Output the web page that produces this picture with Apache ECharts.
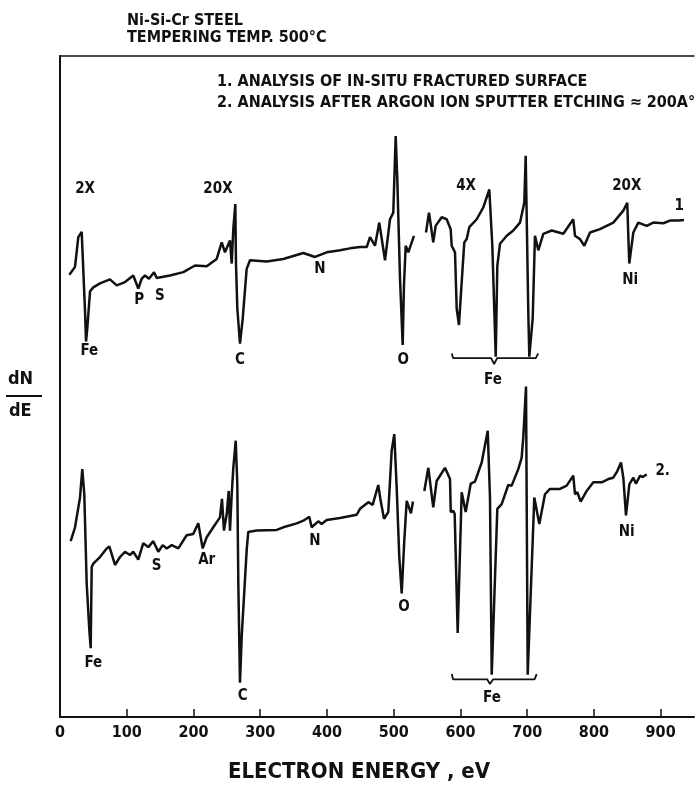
<!DOCTYPE html>
<html>
<head>
<meta charset="utf-8">
<script src="https://cdn.jsdelivr.net/npm/echarts@6/dist/echarts.min.js"></script>
<style>
  html, body { margin: 0; padding: 0; background: #fff; }
  #chart { width: 696px; height: 788px; }
</style>
</head>
<body>
<div id="chart"></div>
<script>
// x axis ticks (eV)
const energyTicks = [0, 100, 200, 300, 400, 500, 600, 700, 800, 900]

// curve 1: in-situ fractured surface
const energy1 = [14, 22.5, 27.4, 32.5, 34.9, 37.5, 39, 40.9, 45, 49.9,
  59.9, 74.9, 85, 97.4, 109.8, 117.3, 122.4, 127.4, 133.4, 140.9,
  144.9, 164.8, 184.8, 202.3, 219.8, 234.8, 242.3, 247.2, 254.7, 257.3,
  259.7, 262.7, 263.7, 265.7, 269.7, 273.8, 279.7, 284.7, 309.7, 334.6,
  364.6, 382.1, 399.6, 419.6, 434.5, 449.5, 459.6, 464.5, 472, 478.4,
  487, 494.5, 499.4, 503, 505.4, 509.5, 513.5, 515.4, 518, 521.9,
  530.4, 540, 548.4, 552.9, 559.3, 562.9, 571.9, 579.4, 585.4, 586.9,
  591.9, 594.4, 597.8, 601.9, 605.8, 609.4, 613.3, 624.4, 634.3, 643.3,
  647.8, 652.9, 655.3, 659.3, 669.4, 679.2, 689.3, 695.7, 697.8, 701.7,
  703.2, 708.3, 711.7, 716.7, 724.2, 736.8, 754.2, 769.1, 771.7, 779.2,
  785.6, 794.2, 809.1, 829.1, 844.1, 850, 851.5, 853, 859.1, 866.5,
  879.1, 889, 904, 914, 926.5, 935]
const signal1 = [66.9, 68.1, 72.6, 73.4, 73.1, 61.4, 56.8, 58.8, 64.4, 65.0,
  65.6, 66.2, 65.3, 65.8, 66.8, 64.8, 66.3, 66.8, 66.3, 67.3,
  66.4, 66.8, 67.3, 68.3, 68.2, 69.3, 71.8, 70.3, 72.1, 68.6,
  73.8, 77.6, 68.6, 61.8, 56.5, 60.3, 67.8, 69.1, 68.9, 69.3,
  70.2, 69.6, 70.3, 70.6, 70.9, 71.1, 71.1, 72.6, 71.3, 74.8,
  69.1, 75.3, 76.3, 87.9, 81.4, 66.3, 56.3, 65.3, 71.3, 70.3,
  72.8, null, 73.3, 76.3, 71.8, 74.3, 75.6, 75.3, 73.8, 71.3,
  70.3, 61.8, 59.3, 65.8, 71.8, 72.3, 74.1, 75.3, 77.1, 79.8,
  71.3, 54.5, 68.3, 71.6, 72.8, 73.6, 74.8, 77.8, 84.9, 61.3,
  54.5, 60.3, 72.8, 70.6, 73.1, 73.6, 73.1, 75.3, 72.8, 72.3,
  71.3, 73.3, 73.8, 74.8, 76.6, 77.8, 73.0, 68.6, 73.3, 74.8,
  74.3, 74.8, 74.7, 75.1, 75.1, 75.2]

// curve 2: after argon ion sputter etching
const energy2 = [16, 22.5, 30, 33.4, 36.4, 40, 43.9, 46, 47.5, 49.9,
  59.9, 70, 73.9, 82.4, 89.9, 97.4, 104.9, 109.8, 117.3, 124.8,
  132.3, 139.8, 147.3, 153.9, 159.9, 167.4, 177.3, 189.8, 199.7, 207.2,
  213.8, 219.8, 229.7, 239.7, 242.7, 245.7, 249.8, 252.8, 254.7, 257.3,
  259.7, 263.3, 265.7, 267.2, 269.7, 272.3, 279.7, 282.1, 294.7, 324.7,
  334.6, 354.7, 364.6, 373.5, 377.1, 387, 392.1, 399.6, 419.6, 444.6,
  449.5, 462, 468.5, 476.9, 480.5, 485.5, 491.9, 497, 500.9, 504.5,
  508.4, 512, 515.9, 519.5, 525.9, 528.9, 537, 545.9, 551.9, 559.3,
  564.4, 576.9, 584.4, 585.5, 589.3, 591.4, 595.9, 601.9, 607.9, 615.4,
  621.8, 631.9, 640.9, 644.3, 646.9, 655.3, 661.8, 671.7, 676.8, 686.7,
  691.7, 694.2, 698.3, 700.8, 710.7, 718.2, 726.7, 734.2, 749.2, 759.2,
  769.1, 771.7, 775.1, 780.2, 789.2, 799.1, 811.7, 821.6, 829.1, 835.1,
  840.6, 844.1, 848.1, 853.1, 859.1, 863.1, 869.1, 873.1, 879.1]
const signal2 = [26.6, 28.7, 33.2, 37.5, 33.7, 20.2, 13.2, 10.4, 22.7, 23.2,
  24.2, 25.5, 25.8, 23.0, 24.2, 25.0, 24.5, 25.0, 23.8, 26.3,
  25.7, 26.6, 25.0, 26.0, 25.5, 26.0, 25.5, 27.5, 27.7, 29.3,
  25.5, 27.2, 28.7, 30.2, 33.0, 28.2, 30.7, 34.2, 28.2, 33.7,
  37.7, 41.8, 35.2, 20.2, 5.2, 12.2, 25.2, 28.0, 28.2, 28.3,
  28.7, 29.3, 29.7, 30.3, 28.7, 29.6, 29.2, 29.8, 30.1, 30.6,
  31.5, 32.5, 32.1, 35.1, 32.7, 30.0, 31.0, 40.3, 42.8, 34.7,
  24.2, 18.7, 26.7, 32.7, 30.8, 32.6, null, 34.2, 37.7, 31.7,
  35.7, 37.7, 36.0, 31.0, 31.2, 30.7, 12.7, 34.0, 31.0, 35.3,
  35.6, 38.5, 43.3, 33.2, 6.4, 31.5, 32.2, 35.1, 35.0, 37.5,
  39.2, 42.3, 50.0, 6.4, 33.2, 29.2, 33.7, 34.5, 34.5, 35.0,
  36.5, 33.7, 34.0, 32.6, 34.2, 35.5, 35.5, 36.0, 36.2, 37.2,
  38.5, 36.2, 30.5, 35.2, 36.2, 35.3, 36.5, 36.3, 36.7]

// Fe brackets under the three Fe peaks
const bracketEnergy1 = [587, 589, 646, 650.5, 655, 713, 716.6]
const bracketSignal1 = [55.0, 54.3, 54.3, 53.4, 54.3, 54.3, 55.0]
const bracketEnergy2 = [587, 589, 640, 644.3, 649, 711, 714.3]
const bracketSignal2 = [6.5, 5.7, 5.7, 5.0, 5.7, 5.7, 6.5]

// peak labels and gain notes
const labelText = ['2X', '20X', '4X', '20X', '1', 'Fe', 'P', 'S', 'C', 'N', 'O', 'Fe', 'Ni',
  'Fe', 'S', 'Ar', 'C', 'N', 'O', 'Fe', 'Ni', '2.']
const labelEnergy = [37.5, 236.7, 608.4, 849.2, 928, 43.9, 118.8, 149.8, 269.7, 389.6, 514.4, 648.8, 854.4,
  49.9, 144.9, 219.8, 273.8, 382.1, 515.5, 647.3, 849.2, 903]
const labelSignal = [79.8, 79.8, 80.3, 80.3, 77.3, 55.3, 63.1, 63.6, 54.0, 67.7, 54.0, 51.0, 66.1,
  8.2, 22.8, 23.7, 3.2, 26.6, 16.6, 2.9, 28.0, 37.2]

const FONT = '"DejaVu Sans Condensed", "DejaVu Sans", sans-serif'
const INK = '#111'

function zip(xs, ys) {
  return xs.map((x, i) => [x, ys[i] === null ? '-' : ys[i]])
}

let chart = echarts.init(document.getElementById('chart'))

let traceStyle = { color: INK, width: 2.5 }

let option = {
  animation: false,
  backgroundColor: '#fff',
  textStyle: { fontFamily: FONT, fontWeight: 'bold', color: INK },
  grid: { left: 60, right: 2, top: 56, bottom: 67 },
  title: [
    {
      text: 'Ni-Si-Cr STEEL\nTEMPERING TEMP. 500°C',
      left: 122, top: 8,
      textStyle: { fontFamily: FONT, fontWeight: 'bold', fontSize: 16, lineHeight: 16.5, color: INK }
    },
    {
      text: '1. ANALYSIS OF IN-SITU FRACTURED SURFACE\n2. ANALYSIS AFTER ARGON ION SPUTTER ETCHING ≈ 200A°',
      left: 212, top: 66,
      textStyle: { fontFamily: FONT, fontWeight: 'bold', fontSize: 16, lineHeight: 21, color: INK }
    }
  ],
  xAxis: [
    {
      type: 'value', min: 0, max: 950, interval: 100,
      name: 'ELECTRON ENERGY , eV', nameLocation: 'middle', nameGap: 44,
      nameTextStyle: { fontFamily: FONT, fontWeight: 'bold', fontSize: 22, color: INK, padding: [0, 36, 0, 0] },
      axisLine: { lineStyle: { color: INK, width: 2 } },
      axisTick: { inside: true, length: 8, lineStyle: { color: INK, width: 1.5 } },
      axisLabel: { margin: 8, fontSize: 16, fontFamily: FONT, fontWeight: 'bold', color: INK, showMaxLabel: false,
        formatter: v => energyTicks.indexOf(v) >= 0 ? String(v) : '' },
      splitLine: { show: false }
    },
    {
      type: 'value', min: 0, max: 950, position: 'top',
      axisLine: { show: true, lineStyle: { color: INK, width: 1.5 } },
      axisTick: { show: false }, axisLabel: { show: false }, splitLine: { show: false }
    }
  ],
  yAxis: {
    type: 'value', min: 0, max: 100,
    axisLine: { show: true, lineStyle: { color: INK, width: 2 } },
    axisTick: { show: false }, axisLabel: { show: false }, splitLine: { show: false }
  },
  graphic: [
    { type: 'text', left: 8, top: 370, style: { text: 'dN', font: 'bold 18px ' + FONT, fill: INK } },
    { type: 'line', shape: { x1: 6, y1: 396, x2: 42, y2: 396 }, style: { stroke: INK, lineWidth: 2 } },
    { type: 'text', left: 9, top: 402, style: { text: 'dE', font: 'bold 18px ' + FONT, fill: INK } }
  ],
  series: [
    { type: 'line', data: zip(energy1, signal1), showSymbol: false, symbol: 'none', lineStyle: traceStyle },
    { type: 'line', data: zip(energy2, signal2), showSymbol: false, symbol: 'none', lineStyle: traceStyle },
    { type: 'line', data: zip(bracketEnergy1, bracketSignal1), symbol: 'none', lineStyle: { color: INK, width: 1.8 } },
    { type: 'line', data: zip(bracketEnergy2, bracketSignal2), symbol: 'none', lineStyle: { color: INK, width: 1.8 } },
    {
      type: 'scatter', symbolSize: 0, itemStyle: { color: INK, opacity: 1 },
      data: labelText.map((t, i) => ({ name: t, value: [labelEnergy[i], labelSignal[i]] })),
      label: { show: true, position: 'inside', formatter: p => p.name,
        fontFamily: FONT, fontWeight: 'bold', fontSize: 15, color: INK, textBorderWidth: 0, opacity: 1 }
    }
  ]
}

chart.setOption(option)
</script>
</body>
</html>
